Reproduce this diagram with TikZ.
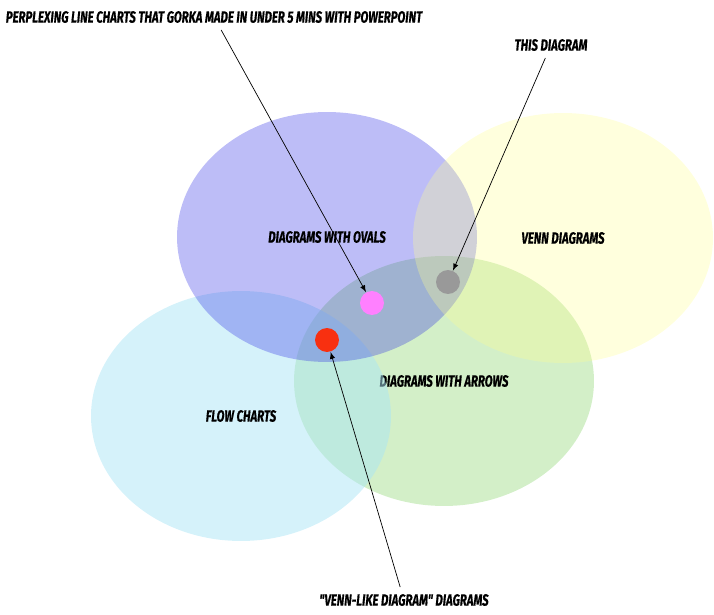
\documentclass[tikz,border=0pt]{standalone}
\usepackage{xcolor}
\usepackage{fontspec}
\usepackage{tikz}
\usetikzlibrary{arrows}
\usetikzlibrary{arrows.meta}
\usetikzlibrary{shapes}
\usetikzlibrary{shapes.geometric}
\newfontfamily\comicfont{Fira Sans}[FakeStretch=0.7, FakeBold=0.5]
\definecolor{ovalblue}{RGB}{38,38,227}
\definecolor{vennyellow}{RGB}{255,255,142}
\definecolor{flowcyan}{RGB}{171,229,245}
\definecolor{arrowgreen}{RGB}{145,215,118}
\definecolor{dotpink}{RGB}{255,128,255}
\definecolor{dotred}{RGB}{248,48,16}
\definecolor{dotgrey}{RGB}{153,153,153}
\tikzset{>=latex}
\tikzstyle{set} = [ellipse, draw=none, minimum width=6cm, minimum height=5cm, text opacity=1, font=\comicfont\bfseries\itshape\fontsize{9.3}{9.3}\selectfont]
\tikzstyle{dot} = [circle, draw=none, minimum size=0.48cm, inner sep=0pt]
\tikzstyle{tag} = [rectangle, draw=none, inner sep=1pt, outer sep=3pt, font=\comicfont\bfseries\itshape\fontsize{9.3}{9.3}\selectfont]

\begin{document}
\begin{tikzpicture}[x=0.02cm, y=-0.02cm]
\useasboundingbox (0, 0) rectangle (714, 615);
\node [set, fill=arrowgreen, fill opacity=0.4] (arrows) at (444, 381) {DIAGRAMS WITH ARROWS};
\node [set, fill=flowcyan, fill opacity=0.5] (flow) at (241, 416) {FLOW CHARTS};
\node [set, fill=ovalblue, fill opacity=0.3] (ovals) at (327, 237) {DIAGRAMS WITH OVALS};
\node [set, fill=vennyellow, fill opacity=0.3] (venn) at (563, 238) {VENN DIAGRAMS};
\node [dot, fill=dotpink] (pinkdot) at (372, 303) {};
\node [dot, fill=dotred] (reddot) at (327, 340) {};
\node [dot, fill=dotgrey] (greydot) at (448, 282) {};
\node [tag] (perplex) at (214, 17) {PERPLEXING LINE CHARTS THAT GORKA MADE IN UNDER 5 MINS WITH POWERPOINT};
\node [tag] (this) at (551, 45) {THIS DIAGRAM};
\node [tag] (vennlike) at (404, 600) {"VENN-LIKE DIAGRAM" DIAGRAMS};
\draw [-latex, draw = black] (perplex) to (pinkdot);
\draw [-latex, draw = black] (this) to (greydot);
\draw [-latex, draw = black] (vennlike) to (reddot);
\end{tikzpicture}
\end{document}
